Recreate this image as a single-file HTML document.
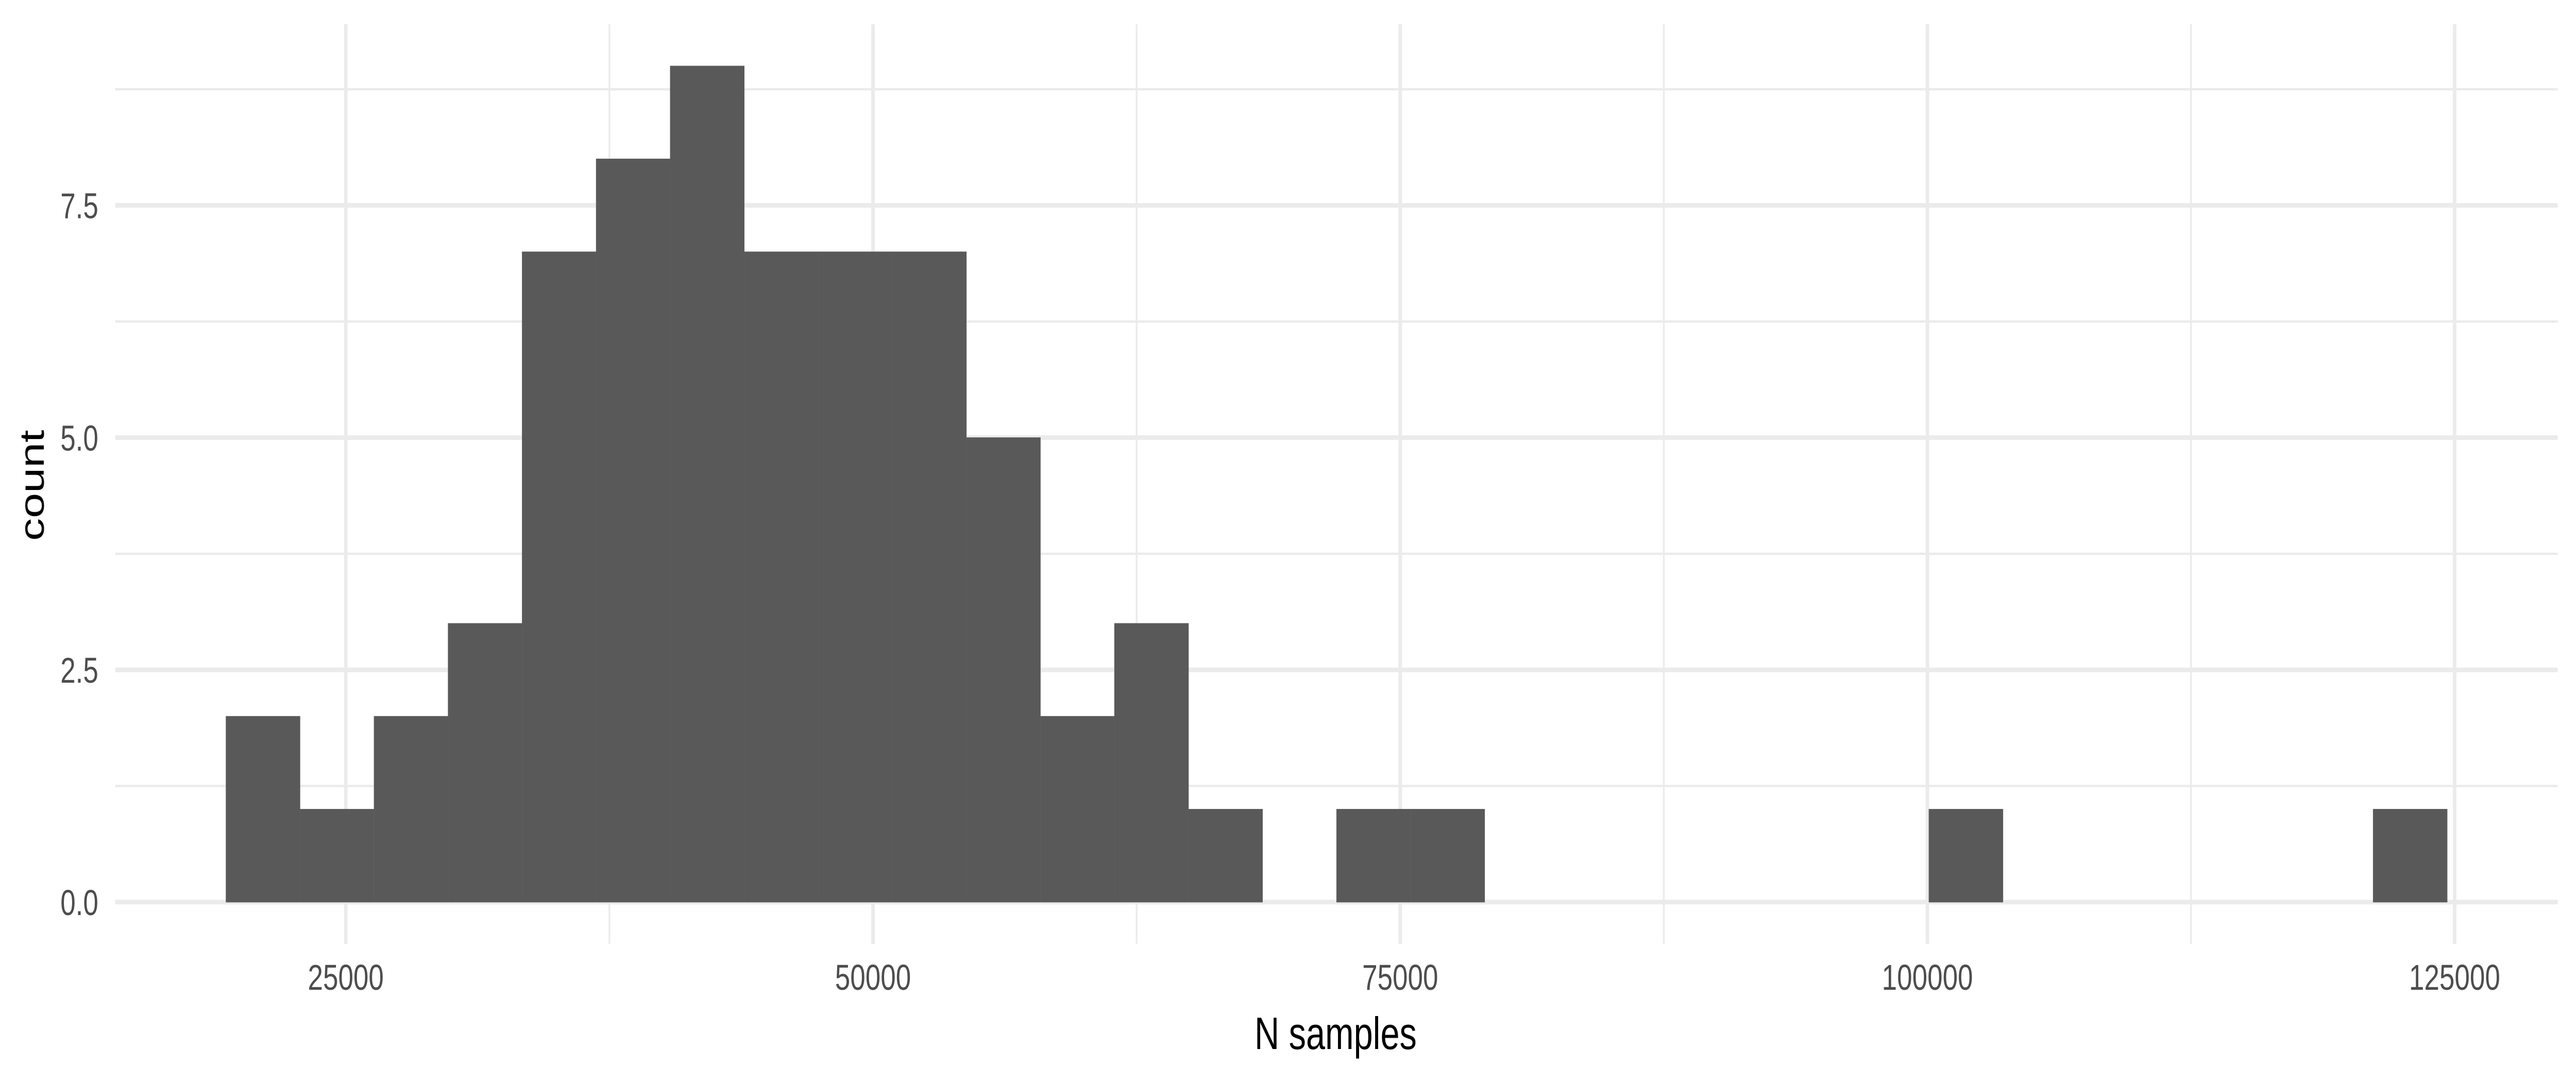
<!DOCTYPE html>
<html><head><meta charset="utf-8"><style>
html,body{margin:0;padding:0;background:#fff;width:100vw;height:100vh;overflow:hidden;}
svg{display:block;font-family:"Liberation Sans",sans-serif;width:100vw;height:100vh;}
</style></head><body>
<svg id="chart" viewBox="0 0 6600 2100" preserveAspectRatio="none" xmlns="http://www.w3.org/2000/svg">
<rect width="6600" height="2100" fill="#fff"/>
<g id="grid"></g>
<g id="bars"></g>
<g id="ticks"></g>
<text x="3422" y="2036" text-anchor="middle" font-size="88" fill="#000">N samples</text>
<text transform="translate(112,942) rotate(-90)" text-anchor="middle" font-size="88" fill="#000">count</text>
</svg>
<script>
const counts = [2,1,2,3,7,8,9,7,7,7,5,2,3,1,0,1,1,0,0,0,0,0,0,1,0,0,0,0,0,1];
const binStart = 19318;
const binWidth = 3511;
const xTicks = [25000,50000,75000,100000,125000];
const xTickLabels = ["25000","50000","75000","100000","125000"];
const xMinor = [37500,62500,87500,112500];
const yTicks = [0,2.5,5,7.5];
const yTickLabels = ["0.0","2.5","5.0","7.5"];
const yMinor = [1.25,3.75,6.25,8.75];

const PL=295, PR=6553, PT=47, PB=1832;
const xMin=14062, xMax=129886, yMin=-0.45, yMax=9.45;
const X = v => PL + (v-xMin)/(xMax-xMin)*(PR-PL);
const Y = v => PB - (v-yMin)/(yMax-yMin)*(PB-PT);
const NS="http://www.w3.org/2000/svg";
function mk(tag, attrs, parent){const e=document.createElementNS(NS,tag);for(const k in attrs)e.setAttribute(k,attrs[k]);parent.appendChild(e);return e;}
const grid=document.getElementById('grid'), bars=document.getElementById('bars'), ticks=document.getElementById('ticks');
yMinor.forEach(v=>{const l=mk('line',{x1:PL,x2:PR,y1:Y(v),y2:Y(v),stroke:'#EBEBEB','stroke-width':4.5},grid);

});
xMinor.forEach(v=>{const l=mk('line',{x1:X(v),x2:X(v),y1:PT,y2:PB,stroke:'#EBEBEB','stroke-width':4.5},grid);

});
yTicks.forEach((v,i)=>{const l=mk('line',{x1:PL,x2:PR,y1:Y(v),y2:Y(v),stroke:'#EBEBEB','stroke-width':9},grid);


const t=mk('text',{x:252,y:Y(v)+25,'text-anchor':'end','font-size':70,fill:'#4D4D4D'},ticks);t.textContent=yTickLabels[i];

});
xTicks.forEach((v,i)=>{const l=mk('line',{x1:X(v),x2:X(v),y1:PT,y2:PB,stroke:'#EBEBEB','stroke-width':9},grid);


const t=mk('text',{x:X(v),y:1921,'text-anchor':'middle','font-size':70,fill:'#4D4D4D'},ticks);t.textContent=xTickLabels[i];

});
counts.forEach((c,i)=>{if(c<=0)return;const x0=X(binStart+i*binWidth),x1=X(binStart+(i+1)*binWidth);
const r=mk('rect',{x:x0,y:Y(c),width:x1-x0,height:Y(0)-Y(c),fill:'#595959',stroke:'#5f5f5f','stroke-width':1},bars);

});
</script>
</body></html>
